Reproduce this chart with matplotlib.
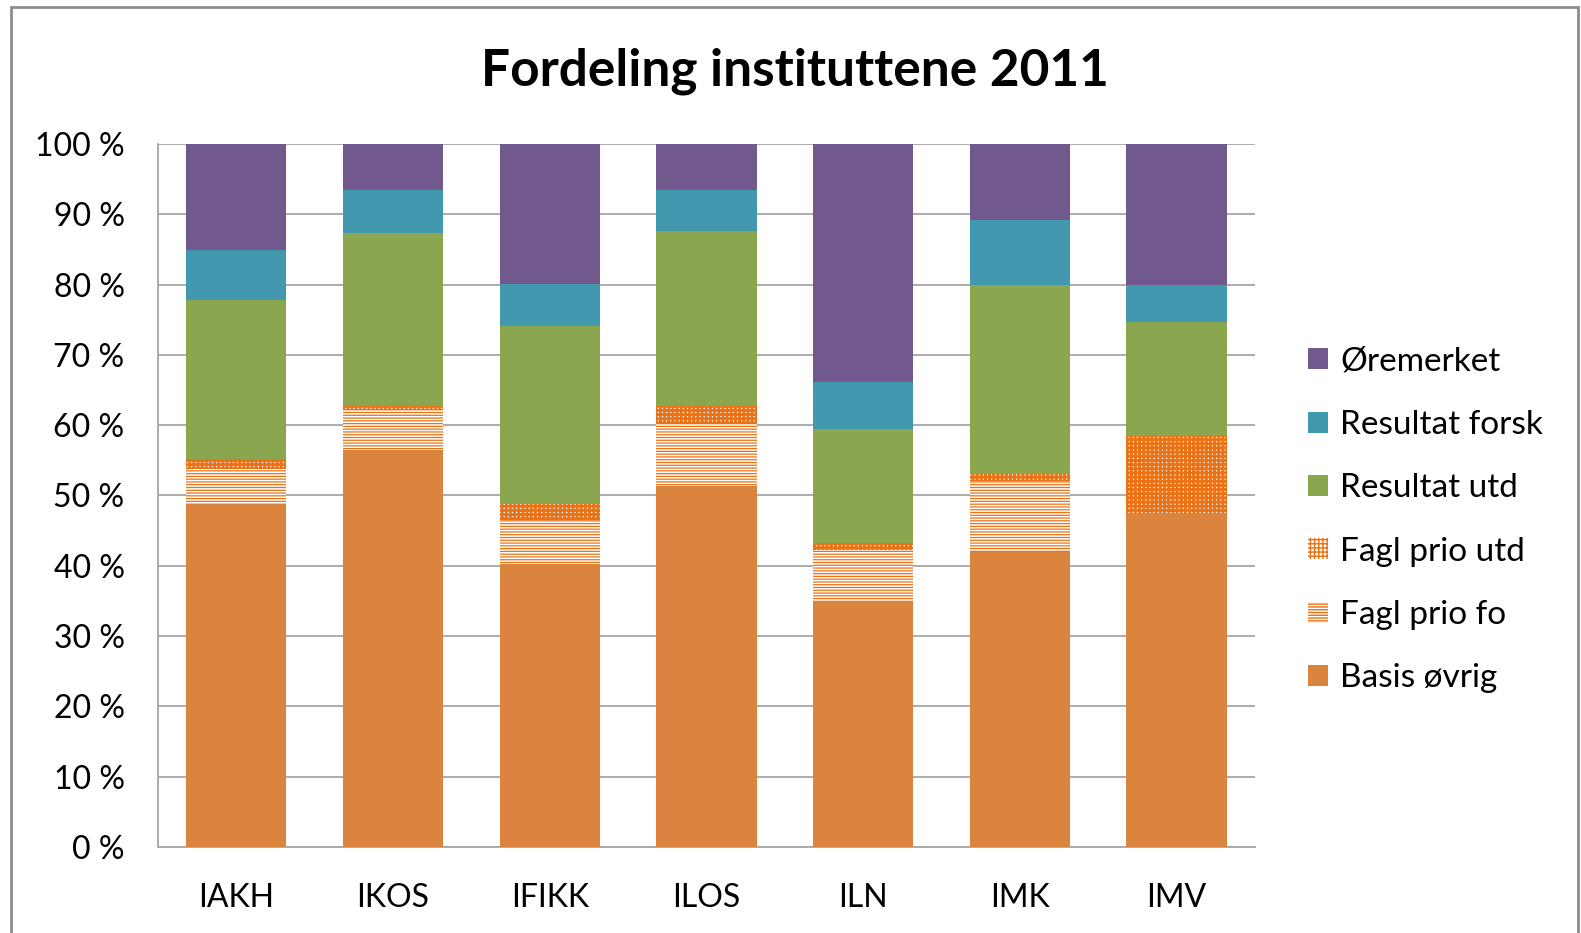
import matplotlib
matplotlib.use("Agg")
import matplotlib.pyplot as plt
from matplotlib.patches import Patch, Rectangle
import numpy as np

institutes = ["IAKH", "IKOS", "IFIKK", "ILOS", "ILN", "IMK", "IMV"]

# shares in percent, bottom to top
basis_ovrig = [48.8, 56.5, 40.2, 51.4, 35.0, 41.9, 47.5]
fagl_prio_fo = [4.9, 5.7, 6.3, 8.7, 7.2, 10.2, 0.0]
fagl_prio_utd = [1.5, 0.5, 2.3, 2.6, 1.0, 1.0, 10.9]
resultat_utd = [22.6, 24.7, 25.3, 24.9, 16.3, 26.8, 16.3]
resultat_forsk = [7.1, 6.1, 6.0, 5.9, 6.7, 9.3, 5.2]
oremerket = [15.1, 6.5, 19.9, 6.5, 33.8, 10.8, 20.1]

series_names = ["Basis øvrig", "Fagl prio fo", "Fagl prio utd",
                "Resultat utd", "Resultat forsk", "Øremerket"]
yticks = [0, 10, 20, 30, 40, 50, 60, 70, 80, 90, 100]

ORANGE = "#DB843D"
HATCH_OR = "#EB7215"
GREEN = "#8AA64E"
TEAL = "#4298AF"
PURPLE = "#71598E"
GRID = "#A6A6A6"

plt.rcParams["font.family"] = ["Lato", "DejaVu Sans"]

fig = plt.figure(figsize=(15.81, 9.33), dpi=100)
ax = fig.add_axes([0.0999, 0.0922, 0.6939, 0.7535])

x = np.arange(len(institutes))
w = 0.64
bottom = np.zeros(len(institutes))

styles = [
    dict(color=ORANGE, linewidth=0),
    dict(facecolor="white", edgecolor=HATCH_OR, hatch="------", linewidth=0),
    dict(facecolor="white", edgecolor=HATCH_OR, hatch="++++", linewidth=0),
    dict(color=GREEN, linewidth=0),
    dict(color=TEAL, linewidth=0),
    dict(color=PURPLE, linewidth=0),
]
hatch_lw = [None, 0.9, 2.0, None, None, None]
series = [basis_ovrig, fagl_prio_fo, fagl_prio_utd,
          resultat_utd, resultat_forsk, oremerket]

handles = []
for vals, name, st, hlw in zip(series, series_names, styles, hatch_lw):
    vals = np.array(vals)
    if hlw is not None:
        with plt.rc_context({"hatch.linewidth": hlw}):
            bars = ax.bar(x, vals, w, bottom=bottom, zorder=3, **st)
            for b in bars:
                if hasattr(b, "set_hatch_linewidth"):
                    b.set_hatch_linewidth(hlw)
            h = Patch(**st)
            if hasattr(h, "set_hatch_linewidth"):
                h.set_hatch_linewidth(hlw)
    else:
        ax.bar(x, vals, w, bottom=bottom, zorder=3, **st)
        h = Patch(**st)
    handles.append(h)
    bottom += vals

ax.set_xlim(-0.5, len(institutes) - 0.5)
ax.set_ylim(0, 100)
ax.set_yticks(yticks)
ax.set_yticklabels([f"{t} %" for t in yticks])
ax.set_xticks(x)
ax.set_xticklabels(institutes)
ax.tick_params(axis="both", length=0, labelsize=23, colors="black")
ax.tick_params(axis="y", pad=24)
ax.tick_params(axis="x", pad=26)

ax.yaxis.grid(True, color=GRID, linewidth=1.3, zorder=0)
ax.set_axisbelow(True)
for s in ["top", "right"]:
    ax.spines[s].set_visible(False)
for s in ["left", "bottom"]:
    ax.spines[s].set_color(GRID)
    ax.spines[s].set_linewidth(1.3)

fig.text(0.5025, 0.924, "Fordeling instituttene 2011", ha="center", va="center",
         fontsize=37, fontweight="bold")

leg = fig.legend(handles[::-1], series_names[::-1], loc="center left",
                 bbox_to_anchor=(0.817, 0.4427), frameon=False, fontsize=24,
                 handlelength=0.6, handleheight=0.6, handletextpad=0.35,
                 labelspacing=1.0, borderpad=0)

# outer chart frame
fig.patches.append(Rectangle((11 / 1581, -0.05), (1578 - 11) / 1581, 1.05 - 7 / 933,
                             transform=fig.transFigure, fill=False,
                             edgecolor="#8C8C8C", linewidth=2))

fig.savefig("out.png", dpi=100)
